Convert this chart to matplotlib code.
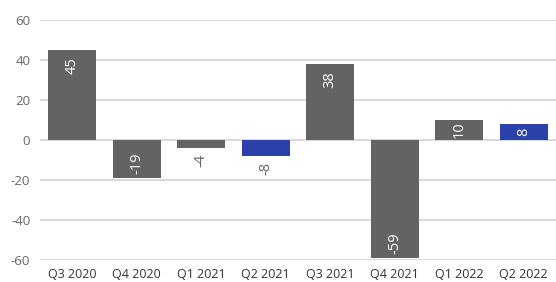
import matplotlib
matplotlib.use("Agg")
import matplotlib.pyplot as plt

categories = ["Q3 2020", "Q4 2020", "Q1 2021", "Q2 2021", "Q3 2021", "Q4 2021", "Q1 2022", "Q2 2022"]
values = [45, -19, -4, -8, 38, -59, 10, 8]
highlight = [False, False, False, True, False, False, False, True]
yticks = [-60, -40, -20, 0, 20, 40, 60]

grey = "#636363"
blue = "#2b40a8"
plt.rcParams['font.family'] = ['Open Sans', 'DejaVu Sans']

fig = plt.figure(figsize=(5.56, 2.82), dpi=100)
ax = fig.add_axes([40/556, 1-260/282, 1-40/556, 240/282])

x = list(range(len(categories)))
colors = [blue if h else grey for h in highlight]
ax.set_axisbelow(True)
ax.yaxis.grid(True, color="#dadada", linewidth=1.5)
bars = ax.bar(x, values, width=0.74, color=colors, zorder=2)

ax.set_xlim(-0.5, len(categories) - 0.5)
ax.set_ylim(-60, 60)
ax.set_yticks(yticks)
ax.set_yticklabels([str(v) for v in yticks])
ax.set_xticks(x)
ax.set_xticklabels(categories)
ax.tick_params(axis="both", length=0)
ax.tick_params(axis="y", pad=7, labelsize=9.5, colors="#666666")
ax.tick_params(axis="x", pad=6, labelsize=9, colors="#333333")
for s in ax.spines.values():
    s.set_visible(False)

for xi, v in zip(x, values):
    label = str(v)
    h = abs(v)
    if v > 0:
        if h >= 15:
            ax.annotate(label, (xi, v), xytext=(0, -5), textcoords="offset points",
                        rotation=90, ha="center", va="top", color="white", fontsize=10.5, zorder=3)
        else:
            ax.annotate(label, (xi, v / 2), rotation=90, ha="center", va="center",
                        color="white", fontsize=10.5, zorder=3)
    else:
        if h >= 12:
            ax.annotate(label, (xi, v), xytext=(0, 3), textcoords="offset points",
                        rotation=90, ha="center", va="bottom", color="white", fontsize=10.5, zorder=3)
        else:
            ax.annotate(label, (xi, v), xytext=(0, -4), textcoords="offset points",
                        rotation=90, ha="center", va="top", color=grey, fontsize=10.5, zorder=3)

fig.savefig("out.png", dpi=100)
